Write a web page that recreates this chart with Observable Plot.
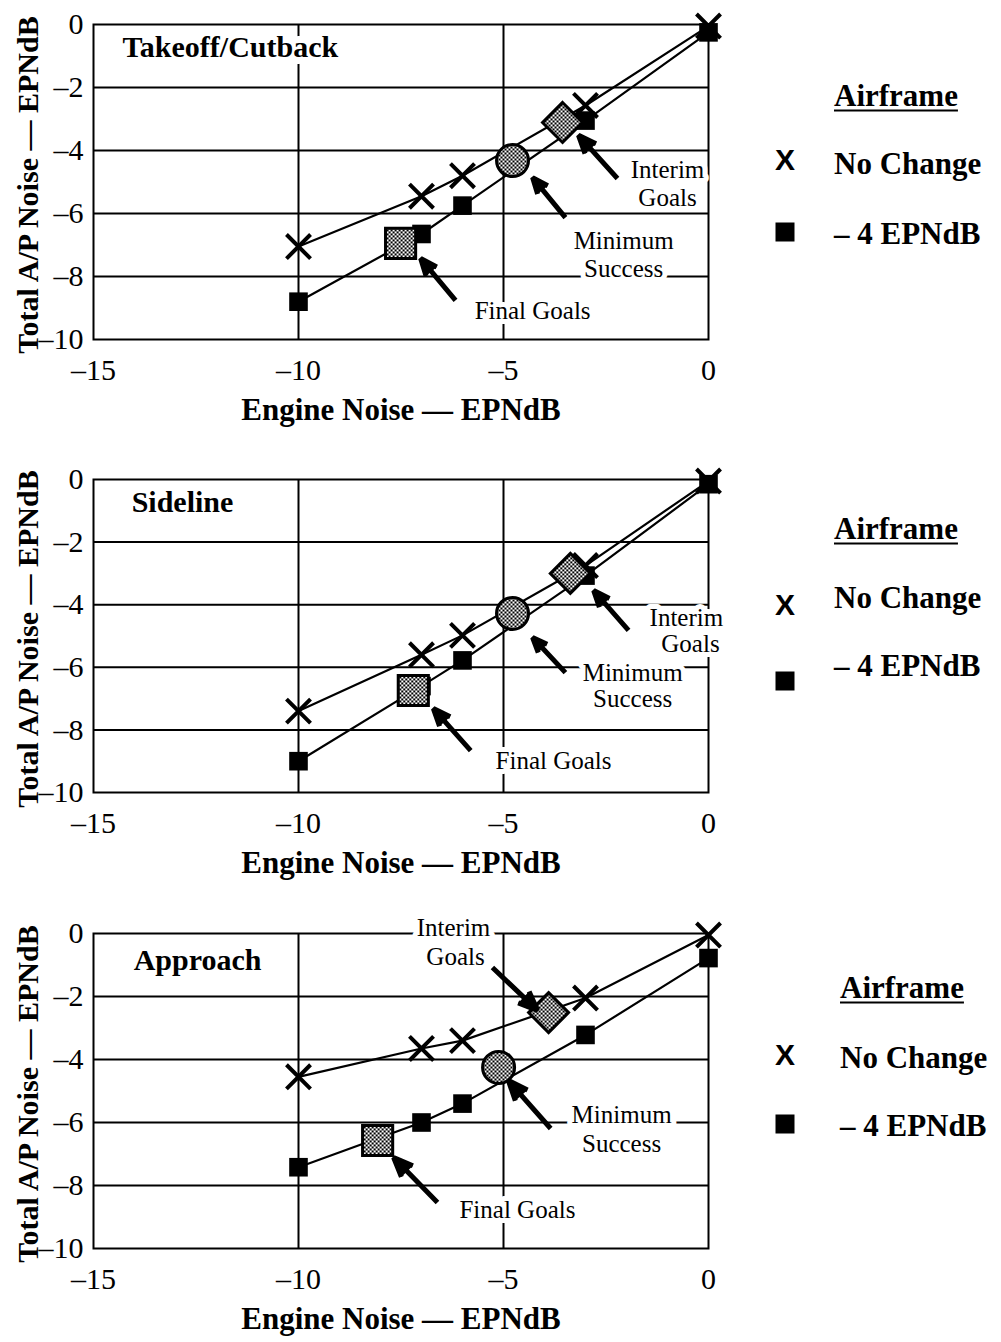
<!DOCTYPE html>
<html>
<head>
<meta charset="utf-8">
<script src="https://cdn.jsdelivr.net/npm/d3@7"></script>
<script src="https://cdn.jsdelivr.net/npm/@observablehq/plot@0.6"></script>
<style>
  html, body { margin: 0; padding: 0; background: #fff; }
  #root { position: relative; width: 1001px; height: 1342px; overflow: hidden; background: #fff; }
  .panel { position: absolute; left: 0; }
  .panel svg { display: block; overflow: visible; }
  svg text { paint-order: stroke; }
  .lg { position: absolute; font-family: "Liberation Serif", serif; font-weight: bold; font-size: 31px; line-height: 1; white-space: nowrap; color: #000; transform: translate(0, -50%); }
  .lg.title { text-decoration: underline; text-decoration-thickness: 2px; text-underline-offset: 4px; }
  .lg.x { font-family: "Liberation Sans", sans-serif; font-size: 30px; transform: translate(-50%, -50%); }
  .lg.sq { width: 19px; height: 19px; background: #000; transform: translate(-50%, -50%); }
</style>
</head>
<body>
<svg width="0" height="0" style="position:absolute">
  <defs>
    <pattern id="goalfill" width="4" height="4" patternUnits="userSpaceOnUse">
      <rect width="4" height="4" fill="#fff"/>
      <rect width="2" height="2" fill="#000"/>
      <rect x="2" y="2" width="2" height="2" fill="#000"/>
    </pattern>
  </defs>
</svg>
<div id="root"></div>
<script>
// ---------- data ----------
const engineNoise = [-10, -7, -6, -3, 0];

const takeoffNoChange  = [-7.05, -5.45, -4.8, -2.57, -0.05];
const takeoffMinus4    = [-8.8, -6.65, -5.75, -3.05, -0.25];
const sidelineNoChange = [-7.4, -5.6, -4.98, -2.75, -0.05];
const sidelineMinus4   = [-9.0, -6.6, -5.78, -3.07, -0.15];
const approachNoChange = [-4.55, -3.65, -3.4, -2.05, -0.05];
const approachMinus4   = [-7.42, -6.0, -5.4, -3.22, -0.78];

// goals: [Interim Goals, Minimum Success, Final Goals]
const takeoffGoalX  = [-3.56, -4.78, -7.51];
const takeoffGoalY  = [-3.11, -4.32, -6.95];
const sidelineGoalX = [-3.37, -4.78, -7.20];
const sidelineGoalY = [-3.0, -4.28, -6.74];
const approachGoalX = [-3.90, -5.12, -8.07];
const approachGoalY = [-2.51, -4.25, -6.57];

// annotation arrows: tail (x1,y1) -> head (x2,y2)
const takeoffArrowX1 = [-2.22, -3.49, -6.17], takeoffArrowY1 = [-4.89, -6.13, -8.76];
const takeoffArrowX2 = [-3.17, -4.29, -7.02], takeoffArrowY2 = [-3.52, -4.86, -7.43];
const sidelineArrowX1 = [-1.95, -3.49, -5.80], sidelineArrowY1 = [-4.82, -6.17, -8.66];
const sidelineArrowX2 = [-2.80, -4.29, -6.71], sidelineArrowY2 = [-3.55, -5.05, -7.32];
const approachArrowX1 = [-5.27, -3.85, -6.61], approachArrowY1 = [-1.08, -6.19, -8.54];
const approachArrowX2 = [-4.17, -4.88, -7.68], approachArrowY2 = [-2.44, -4.67, -7.11];

const annotationText = ["Interim", "Goals", "Minimum", "Success", "Final Goals"];
const takeoffTextX  = [-1.0, -1.0, -2.07, -2.07, -4.29];
const takeoffTextY  = [-4.63, -5.52, -6.86, -7.75, -9.08];
const sidelineTextX = [-0.54, -0.44, -1.85, -1.85, -3.78];
const sidelineTextY = [-4.44, -5.24, -6.17, -7.0, -8.98];
const approachTextX = [-6.22, -6.17, -2.12, -2.12, -4.66];
const approachTextY = [0.19, -0.76, -5.75, -6.67, -8.79];

const panelTitles = ["Takeoff/Cutback", "Sideline", "Approach"];
const panelTitleX = [-14.29, -14.07, -14.02];
const panelTitleY = [-0.72, -0.72, -0.86];

const xTicks = [-15, -10, -5, 0];
const yTicks = [0, -2, -4, -6, -8, -10];
const xGridLines = [-10, -5];
const yGridLines = [-2, -4, -6, -8];
const xAxisLabel = "Engine Noise — EPNdB";
const yAxisLabel = "Total A/P Noise — EPNdB";

const legendTitle = "Airframe";
const legendNames = ["No Change", "– 4 EPNdB"];

// ---------- helpers ----------
const fmt = d => d < 0 ? "–" + Math.abs(d) : String(d);
const series = (ys) => engineNoise.map((x, i) => ({x, y: ys[i]}));

function makePanel(cfg) {
  const noChange = series(cfg.noChange);
  const minus4 = series(cfg.minus4);
  const goal = i => [{x: cfg.goalX[i], y: cfg.goalY[i]}];
  const arrows = cfg.ax1.map((x1, i) => ({x1, y1: cfg.ay1[i], x2: cfg.ax2[i], y2: cfg.ay2[i]}));
  const labels = cfg.tx.map((x, i) => ({x, y: cfg.ty[i], text: annotationText[i]}));
  const title = [{x: cfg.titleX, y: cfg.titleY, text: cfg.title}];
  const halo = {stroke: "white", strokeWidth: 10, fill: "black"};
  const goalStyle = {x: "x", y: "y", fill: "url(#goalfill)", stroke: "black", strokeWidth: 3};

  return Plot.plot({
    width: 1001,
    height: cfg.height,
    marginLeft: 93,
    marginRight: 293,
    marginTop: cfg.marginTop,
    marginBottom: cfg.marginBottom,
    x: {domain: [-15, 0]},
    y: {domain: [-10, 0]},
    style: {fontFamily: "'Liberation Serif', serif", color: "black", background: "white", overflow: "visible"},
    marks: [
      Plot.gridY(yGridLines, {stroke: "black", strokeOpacity: 1, strokeWidth: 2}),
      Plot.gridX(xGridLines, {stroke: "black", strokeOpacity: 1, strokeWidth: 2}),
      Plot.frame({stroke: "black", strokeWidth: 2}),
      Plot.axisX(xTicks, {tickSize: 0, tickPadding: 19, fontSize: 30, tickFormat: fmt, label: null}),
      Plot.axisY(yTicks, {tickSize: 0, tickPadding: 10, fontSize: 30, tickFormat: fmt, label: null}),
      Plot.text([xAxisLabel], {frameAnchor: "bottom", dy: 71, lineAnchor: "middle", textAnchor: "middle", fontSize: 31, fontWeight: "bold"}),
      Plot.text([yAxisLabel], {frameAnchor: "left", dx: -65, dy: 3, rotate: -90, lineAnchor: "middle", textAnchor: "middle", fontSize: 30, fontWeight: "bold"}),
      Plot.text(title, {x: "x", y: "y", text: "text", textAnchor: "start", fontSize: 30, fontWeight: "bold", ...halo, strokeWidth: 14}),
      Plot.text(labels, {x: "x", y: "y", text: "text", fontSize: 25, ...halo}),
      Plot.line(noChange, {x: "x", y: "y", stroke: "black", strokeWidth: 2.2}),
      Plot.line(minus4, {x: "x", y: "y", stroke: "black", strokeWidth: 2.2}),
      Plot.dot(noChange, {x: "x", y: "y", symbol: "times", r: 11, stroke: "black", strokeWidth: 4}),
      Plot.dot(minus4, {x: "x", y: "y", symbol: "square", r: 10.5, fill: "black", stroke: "none"}),
      Plot.dot(goal(0), {...goalStyle, symbol: "diamond2", r: 18}),
      Plot.dot(goal(1), {...goalStyle, symbol: "circle", r: 16}),
      Plot.dot(goal(2), {...goalStyle, symbol: "square", r: 17}),
      Plot.arrow(arrows, {x1: "x1", y1: "y1", x2: "x2", y2: "y2", stroke: "black", fill: "black", strokeWidth: 5, headLength: 21, headAngle: 45, strokeLinecap: "butt", strokeLinejoin: "miter"})
    ]
  });
}

const panels = [
  {top: 0, height: 455, marginTop: 24, marginBottom: 116,
   noChange: takeoffNoChange, minus4: takeoffMinus4, goalX: takeoffGoalX, goalY: takeoffGoalY,
   ax1: takeoffArrowX1, ay1: takeoffArrowY1, ax2: takeoffArrowX2, ay2: takeoffArrowY2,
   tx: takeoffTextX, ty: takeoffTextY, title: panelTitles[0], titleX: panelTitleX[0], titleY: panelTitleY[0],
   legend: {title: 95, x: 160, nc: 163, sq: 232, m4: 233, left: 834}},
  {top: 455, height: 453, marginTop: 24, marginBottom: 116,
   noChange: sidelineNoChange, minus4: sidelineMinus4, goalX: sidelineGoalX, goalY: sidelineGoalY,
   ax1: sidelineArrowX1, ay1: sidelineArrowY1, ax2: sidelineArrowX2, ay2: sidelineArrowY2,
   tx: sidelineTextX, ty: sidelineTextY, title: panelTitles[1], titleX: panelTitleX[1], titleY: panelTitleY[1],
   legend: {title: 528, x: 605, nc: 597, sq: 681, m4: 665, left: 834}},
  {top: 908, height: 434, marginTop: 25, marginBottom: 94,
   noChange: approachNoChange, minus4: approachMinus4, goalX: approachGoalX, goalY: approachGoalY,
   ax1: approachArrowX1, ay1: approachArrowY1, ax2: approachArrowX2, ay2: approachArrowY2,
   tx: approachTextX, ty: approachTextY, title: panelTitles[2], titleX: panelTitleX[2], titleY: panelTitleY[2],
   legend: {title: 987, x: 1055, nc: 1057, sq: 1124, m4: 1125, left: 840}}
];

const root = document.getElementById("root");
for (const p of panels) {
  const div = document.createElement("div");
  div.className = "panel";
  div.style.top = p.top + "px";
  div.appendChild(makePanel(p));
  root.appendChild(div);

  const L = p.legend;
  const add = (cls, text, left, top) => {
    const e = document.createElement("div");
    e.className = "lg " + cls;
    if (text) e.textContent = text;
    e.style.left = left + "px";
    e.style.top = top + "px";
    root.appendChild(e);
  };
  add("title", legendTitle, L.left, L.title);
  add("x", "X", 785, L.x);
  add("", legendNames[0], L.left, L.nc);
  add("sq", "", 785, L.sq);
  add("", legendNames[1], L.left, L.m4);
}
</script>
</body>
</html>
